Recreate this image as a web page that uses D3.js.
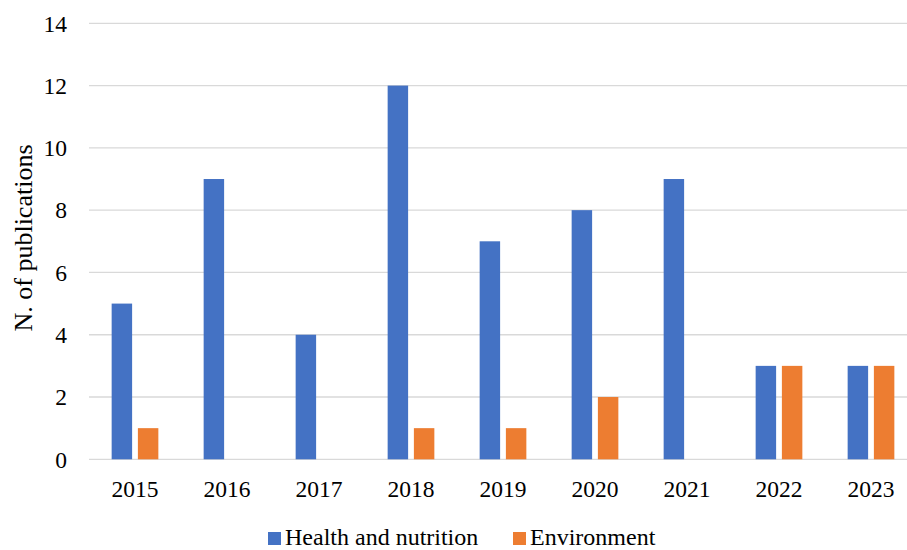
<!DOCTYPE html>
<html><head><meta charset="utf-8">
<script src="https://cdn.jsdelivr.net/npm/d3@7"></script>
<style>body{margin:0;background:#fff}svg{display:block}</style>
</head><body>
<svg id="chart" width="907" height="550"></svg>
<script>
const years = ["2015","2016","2017","2018","2019","2020","2021","2022","2023"];
const seriesNames = ["Health and nutrition","Environment"];
const health = [5,9,4,12,7,8,9,3,3];
const environment = [1,0,0,1,1,2,0,3,3];
const yTicks = [0,2,4,6,8,10,12,14];
const colors = ["#4472C4","#ED7D31"];

(function(){
const svg = d3.select("#chart");
const font = "'Liberation Serif','Times New Roman',serif";
const plotLeft = 89, plotRight = 917, plotTop = 23.3, plotBottom = 459.3;

const x0 = d3.scaleBand().domain(years).range([plotLeft, plotRight]).padding(0);
const groupW = 46.7;
const x1 = d3.scaleBand().domain(seriesNames).range([0, groupW]).paddingInner(0.22);
const y = d3.scaleLinear().domain([0,14]).range([plotBottom, plotTop]);

// gridlines
svg.append("g").selectAll("line").data(yTicks).join("line")
  .attr("x1", plotLeft).attr("x2", plotRight)
  .attr("y1", d => y(d)).attr("y2", d => y(d))
  .attr("stroke", "#d9d9d9").attr("stroke-width", 1.3);

// y tick labels
svg.append("g").selectAll("text").data(yTicks).join("text")
  .attr("x", 67).attr("y", d => y(d)).attr("dy", "0.35em")
  .attr("text-anchor", "end")
  .style("font-family", font).style("font-size", "23.5px").attr("fill", "#000")
  .text(d => d);

// bars
const data = years.map((yr, i) => ({year: yr, vals: [health[i], environment[i]]}));
const off = (x0.bandwidth() - groupW) / 2;
const g = svg.append("g").selectAll("g").data(data).join("g")
  .attr("transform", d => `translate(${x0(d.year) + off},0)`);
g.selectAll("rect").data(d => d.vals.map((v, j) => ({v, j})).filter(e => e.v > 0)).join("rect")
  .attr("x", d => x1(seriesNames[d.j]))
  .attr("width", x1.bandwidth())
  .attr("y", d => y(d.v))
  .attr("height", d => y(0) - y(d.v))
  .attr("fill", d => colors[d.j]);

// x tick labels
svg.append("g").selectAll("text").data(years).join("text")
  .attr("x", d => x0(d) + x0.bandwidth()/2).attr("y", 497)
  .attr("text-anchor", "middle")
  .style("font-family", font).style("font-size", "23.5px").attr("fill", "#000")
  .text(d => d);

// y axis title
svg.append("text")
  .attr("transform", "translate(32,238) rotate(-90)")
  .attr("text-anchor", "middle")
  .style("font-family", font).style("font-size", "26px").attr("fill", "#000")
  .text("N. of publications");

// legend
const legX = [268, 513];
const leg = svg.append("g").selectAll("g").data(seriesNames).join("g")
  .attr("transform", (d, i) => `translate(${legX[i]},0)`);
leg.append("rect").attr("x", 0).attr("y", 532).attr("width", 13).attr("height", 13)
  .attr("fill", (d, i) => colors[i]);
leg.append("text").attr("x", 17).attr("y", 545)
  .style("font-family", font).style("font-size", "24px").attr("fill", "#000")
  .text(d => d);
})();
</script>
</body></html>
